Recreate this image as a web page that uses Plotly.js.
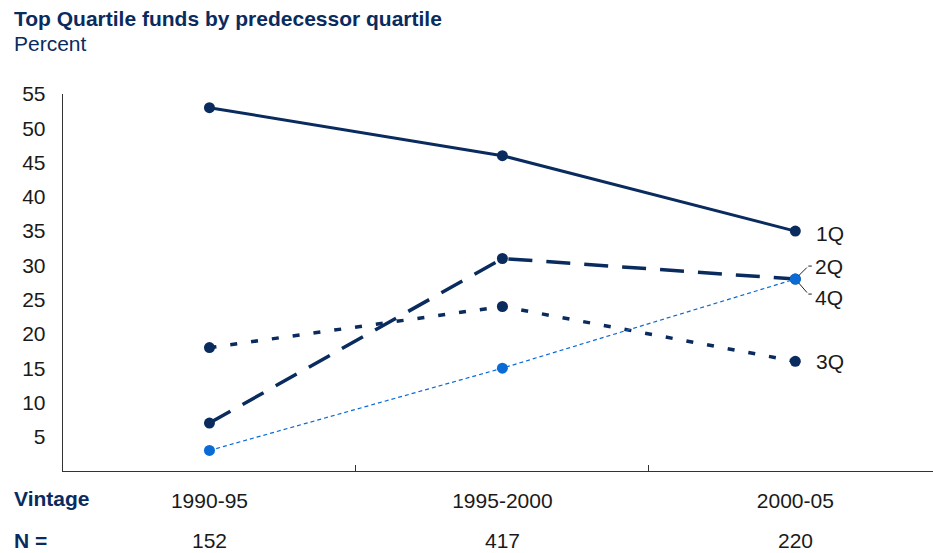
<!DOCTYPE html>
<html>
<head>
<meta charset="utf-8">
<script src="https://cdn.plot.ly/plotly-3.0.1.min.js"></script>
<style>html,body{margin:0;padding:0;background:#fff;}#chart{width:933px;height:553px;}</style>
</head>
<body>
<div id="chart"></div>
<script>
// ---- data ----
const vintages = ["1990-95", "1995-2000", "2000-05"];
const nFunds = [152, 417, 220];
const q1 = [53, 46, 35];
const q2 = [7, 31, 28];
const q3 = [18, 24, 16];
const q4 = [3, 15, 28];
const yTicks = [5, 10, 15, 20, 25, 30, 35, 40, 45, 50, 55];

const NAVY = "#0a2b5e";
const BLUE = "#0a6bd6";
const FONT = "Liberation Sans, Arial, Helvetica, sans-serif";
const TXT = "#1a1a1a";
const FS = 21;

const traces = [
  {x: vintages, y: q1, name: "1Q", mode: "lines+markers",
   line: {color: NAVY, width: 3}, marker: {color: NAVY, size: 11}},
  {x: vintages, y: q3, name: "3Q", mode: "lines+markers",
   line: {color: NAVY, width: 3.5, dash: "7px,14px"}, marker: {color: NAVY, size: 11}},
  {x: vintages, y: q2, name: "2Q", mode: "lines+markers",
   line: {color: NAVY, width: 3.5, dash: "24px,14px"}, marker: {color: NAVY, size: 11}},
  {x: vintages, y: q4, name: "4Q", mode: "lines+markers",
   line: {color: BLUE, width: 1.2, dash: "4px,3px"}, marker: {color: BLUE, size: 11}}
];

const last = vintages.length - 1;
const LX = (12 - 63) / 870;
const annotations = [
  {xref: "paper", yref: "paper", x: LX, y: 1, yshift: 94 - 18, xanchor: "left", yanchor: "middle",
   text: "<b>Top Quartile funds by predecessor quartile</b>", showarrow: false,
   font: {family: FONT, size: FS, color: NAVY}},
  {xref: "paper", yref: "paper", x: LX, y: 1, yshift: 94 - 43, xanchor: "left", yanchor: "middle",
   text: "Percent", showarrow: false, font: {family: FONT, size: FS, color: NAVY}},
  {xref: "paper", yref: "paper", x: LX, y: 0, yshift: -27, xanchor: "left", yanchor: "middle",
   text: "<b>Vintage</b>", showarrow: false, font: {family: FONT, size: FS, color: NAVY}},
  {xref: "paper", yref: "paper", x: LX, y: 0, yshift: -69, xanchor: "left", yanchor: "middle",
   text: "<b>N =</b>", showarrow: false, font: {family: FONT, size: FS, color: NAVY}},
  // series labels
  {x: vintages[last], y: q1[last], xanchor: "left", yanchor: "middle", xshift: 19, yshift: -2,
   text: "1Q", showarrow: false, font: {family: FONT, size: FS, color: TXT}},
  {x: vintages[last], y: q3[last], xanchor: "left", yanchor: "middle", xshift: 19, yshift: 0,
   text: "3Q", showarrow: false, font: {family: FONT, size: FS, color: TXT}},
  {x: vintages[last], y: q2[last], xanchor: "left", yanchor: "middle", xshift: 18, yshift: 13,
   text: "2Q", showarrow: false, font: {family: FONT, size: FS, color: TXT}},
  {x: vintages[last], y: q4[last], xanchor: "left", yanchor: "middle", xshift: 18, yshift: -18,
   text: "4Q", showarrow: false, font: {family: FONT, size: FS, color: TXT}},
  // leader lines for 2Q / 4Q
  {x: vintages[last], y: q2[last], text: "", showarrow: true, arrowhead: 0, arrowwidth: 1, arrowcolor: "#222",
   ax: 13, ay: -13, standoff: 5},
  {x: vintages[last], y: q2[last], xshift: 13, yshift: 13, text: "", showarrow: true, arrowhead: 0, arrowwidth: 1,
   arrowcolor: "#222", ax: 5, ay: 0, standoff: 0},
  {x: vintages[last], y: q4[last], text: "", showarrow: true, arrowhead: 0, arrowwidth: 1, arrowcolor: "#222",
   ax: 13, ay: 15, standoff: 5},
  {x: vintages[last], y: q4[last], xshift: 13, yshift: -15, text: "", showarrow: true, arrowhead: 0, arrowwidth: 1,
   arrowcolor: "#222", ax: 5, ay: 0, standoff: 0}
];
vintages.forEach((v, i) => {
  annotations.push({x: v, yref: "paper", y: 0, yshift: -69, yanchor: "middle", xanchor: "center",
    text: String(nFunds[i]), showarrow: false, font: {family: FONT, size: FS, color: TXT}});
});

const layout = {
  width: 933, height: 553,
  margin: {l: 63, r: 0, t: 94, b: 82, pad: 0},
  paper_bgcolor: "#fff", plot_bgcolor: "#fff",
  showlegend: false,
  font: {family: FONT, size: FS, color: TXT},
  xaxis: {
    type: "category", range: [-0.5, 2.47],
    showline: true, linecolor: "#333", linewidth: 1.3,
    showgrid: false, zeroline: false,
    ticks: "inside", tickson: "boundaries", ticklen: 6, tickcolor: "#333", tickwidth: 1,
    ticklabelstandoff: 10,
    tickfont: {family: FONT, size: FS, color: TXT}
  },
  yaxis: {
    range: [0, 55],
    showline: true, linecolor: "#333", linewidth: 1.3,
    showgrid: false, zeroline: false, ticks: "",
    tickvals: yTicks, ticktext: yTicks.map(String),
    ticklabelstandoff: 12,
    tickfont: {family: FONT, size: FS, color: TXT}
  },
  annotations: annotations
};

Plotly.newPlot("chart", traces, layout, {displayModeBar: false, staticPlot: true});
</script>
</body>
</html>
